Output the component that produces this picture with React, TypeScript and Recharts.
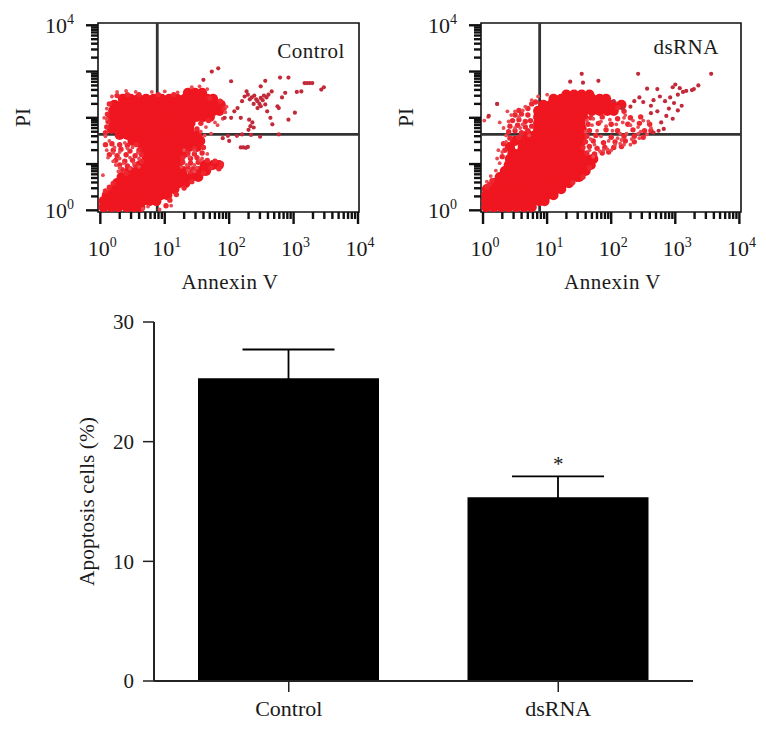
import { Bar, BarChart, ErrorBar, ReferenceArea, ReferenceDot, ReferenceLine, Scatter, ScatterChart, XAxis, YAxis } from "recharts"

const FONT = "'Liberation Serif', serif"
const RED = "#ef1620"
const INK = "#1a1a1a"

// flow cytometry events: [log10 PI, [log10 Annexin V, ...]]
const controlCore: Array<[number, number[]]> = [
  [0.07, [0.05, 0.17, 0.28, 0.41, 0.52, 0.62]],
  [0.2, [0.05, 0.16, 0.29, 0.4, 0.53, 0.65, 0.76, 0.87]],
  [0.33, [0.1, 0.22, 0.34, 0.45, 0.58, 0.7, 0.81, 0.94, 1.04]],
  [0.46, [0.2, 0.32, 0.43, 0.56, 0.68, 0.79, 0.92, 1.04, 1.15]],
  [0.59, [0.26, 0.38, 0.5, 0.61, 0.74, 0.86, 0.97, 1.1, 1.22, 1.32]],
  [0.72, [0.33, 0.45, 0.57, 0.69, 0.8, 0.93, 1.05, 1.16, 1.29, 1.41, 1.52]],
  [0.85, [0.45, 0.57, 0.68, 0.81, 0.93, 1.04, 1.17, 1.28, 1.52, 1.64]],
  [0.98, [0.62, 0.74, 0.86, 0.97, 1.1, 1.2, 1.62, 1.75, 1.84]],
  [1.11, [0.72, 0.84, 0.96, 1.08, 1.19]],
  [1.24, [0.7, 0.82, 0.94, 1.06, 1.18, 1.3]],
  [1.37, [0.66, 0.78, 0.9, 1.02, 1.14, 1.26, 1.38, 1.5]],
  [1.5, [0.5, 0.62, 0.74, 0.86, 0.98, 1.1, 1.22, 1.34, 1.46, 1.55]],
  [1.63, [0.3, 0.42, 0.54, 0.66, 0.78, 0.9, 1.02, 1.14, 1.26, 1.38, 1.5]],
  [1.76, [0.18, 0.3, 0.42, 0.54, 0.66, 0.78, 0.9, 1.02, 1.14, 1.26, 1.38]],
  [1.89, [0.2, 0.32, 0.44, 0.56, 0.68, 0.8, 0.92, 1.04, 1.16, 1.28, 1.4]],
  [2.02, [0.17, 0.29, 0.41, 0.53, 0.65, 0.77, 0.89, 1.01, 1.13, 1.25, 1.37, 1.49, 1.6, 1.7]],
  [2.15, [0.2, 0.32, 0.44, 0.56, 0.68, 0.8, 0.92, 1.04, 1.16, 1.28, 1.4, 1.52, 1.64, 1.76, 1.85]],
  [2.28, [0.22, 0.34, 0.46, 0.58, 0.7, 0.82, 0.94, 1.06, 1.18, 1.3, 1.42, 1.54, 1.66, 1.78, 1.87]],
  [2.41, [0.35, 0.47, 0.59, 0.71, 0.83, 0.95, 1.07, 1.19, 1.31, 1.43, 1.55, 1.66, 1.75]],
  [2.54, [1.36, 1.47, 1.58]],
]

const controlMid: Array<[number, number]> = [
  [0.08, 1.42], [0.18, 1.44], [0.3, 1.42], [0.42, 1.4], [0.56, 1.42], [0.2, 1.3], [0.32, 1.32], [0.46, 1.28], [0.6, 1.3],
  [0.14, 1.2], [0.26, 1.18], [0.4, 1.2], [0.54, 1.18], [0.64, 1.2], [0.24, 1.08], [0.38, 1.06], [0.5, 1.08], [0.64, 1.06],
  [0.3, 0.98], [0.42, 0.96], [0.54, 0.98], [0.34, 0.88], [0.4, 0.8], [1.46, 1.34], [1.6, 1.36], [1.36, 1.24], [1.46, 1.22],
  [1.58, 1.24], [1.28, 1.14], [1.4, 1.12], [1.5, 1.14], [1.28, 1.04], [1.4, 1.02], [1.52, 1.04], [1.36, 0.92], [1.44, 0.9],
  [1.72, 0.92], [1.84, 0.9], [1.66, 1.08], [1.78, 1.06], [1.88, 1.0], [1.4, 0.84], [0.08, 0.42], [0.14, 0.5], [0.2, 0.58],
  [1.02, 0.1], [1.08, 0.22], [1.18, 0.34], [1.3, 0.48], [1.42, 0.62], [1.6, 0.8], [0.08, 1.68], [0.1, 1.8], [0.12, 1.92],
  [0.11, 2.08], [0.14, 2.3], [0.26, 2.48], [0.42, 2.5], [0.6, 2.5], [0.9, 2.5], [1.14, 2.5], [1.7, 2.42], [1.86, 2.36],
  [1.92, 2.2], [1.68, 1.94], [1.56, 1.88], [1.5, 1.76],
]

const controlSpecks: Array<[number, number]> = [
  [0.08, 1.6], [0.14, 1.5], [0.22, 1.36], [0.1, 1.3], [0.2, 1.24], [0.3, 1.26], [0.38, 1.46], [0.42, 1.34], [0.5, 1.36],
  [0.58, 1.24], [0.12, 1.14], [0.2, 1.06], [0.3, 1.12], [0.36, 1.02], [0.46, 1.14], [0.52, 1.02], [0.6, 1.12], [0.6, 0.94],
  [0.46, 0.9], [0.3, 0.92], [0.24, 0.98], [0.04, 0.76], [0.28, 0.84], [0.1, 1.98], [0.06, 2.0], [0.1, 2.2], [0.18, 2.46],
  [0.26, 2.56], [0.4, 2.58], [0.55, 2.56], [0.8, 2.56], [1.0, 2.57], [1.2, 2.55], [1.3, 1.3], [1.38, 1.16], [1.46, 1.28],
  [1.55, 1.08], [1.46, 0.98], [1.34, 0.98], [1.26, 0.94], [1.36, 0.86], [1.5, 0.92], [1.58, 1.12], [1.66, 1.22], [1.46, 0.84],
  [1.66, 2.62], [1.54, 2.68], [1.42, 2.66], [1.96, 2.24], [1.94, 2.12], [1.9, 1.98], [1.78, 1.9], [1.64, 1.8], [1.56, 1.7],
  [1.62, 1.62], [1.72, 1.66], [1.82, 1.84], [0.66, 0.03], [0.74, 0.08], [0.92, 0.02], [1.1, 0.1],
]

const controlOutliers: Array<[number, number]> = [
  [1.73, 3.0], [1.83, 3.07], [2.03, 2.79], [1.6, 2.82], [2.56, 2.8], [2.79, 2.87], [2.92, 2.87], [3.17, 2.75], [3.21, 2.75],
  [3.25, 2.75], [3.29, 2.75], [3.43, 2.61], [3.47, 2.66], [3.12, 2.57], [3.05, 2.56], [2.87, 2.54], [2.82, 2.44], [2.66, 2.57],
  [2.61, 2.5], [2.54, 2.48], [2.49, 2.43], [2.44, 2.36], [2.39, 2.48], [2.29, 2.5], [2.24, 2.46], [2.27, 2.57], [2.49, 2.68],
  [2.56, 2.29], [2.49, 2.25], [2.44, 2.21], [2.59, 2.14], [2.77, 2.21], [2.75, 2.25], [3.02, 2.11], [2.92, 1.96], [2.64, 2.0],
  [2.67, 1.86], [2.33, 1.82], [2.38, 1.79], [2.31, 1.96], [2.18, 2.0], [2.03, 2.0], [2.13, 2.21], [2.08, 2.14], [1.93, 2.0],
  [2.38, 2.3], [2.2, 2.36], [2.32, 2.4], [2.12, 1.61], [2.2, 1.64], [2.34, 1.63], [2.48, 1.59], [2.77, 1.64], [1.98, 1.61],
  [2.18, 1.36], [2.22, 1.36], [2.26, 1.35], [2.29, 1.37], [2.0, 1.5], [1.9, 1.56], [2.42, 2.4], [2.47, 2.3], [2.52, 2.38],
  [2.58, 2.44], [2.35, 2.44], [2.3, 1.74], [2.36, 1.9],
]

const dsrnaCore: Array<[number, number[]]> = [
  [0.07, [0.05, 0.17, 0.29, 0.4, 0.52, 0.64, 0.76]],
  [0.2, [0.05, 0.17, 0.28, 0.41, 0.53, 0.64, 0.76, 0.88, 0.96]],
  [0.33, [0.05, 0.16, 0.29, 0.4, 0.52, 0.65, 0.77, 0.88, 1.0, 1.1]],
  [0.46, [0.06, 0.18, 0.3, 0.42, 0.54, 0.66, 0.78, 0.9, 1.02, 1.14, 1.22]],
  [0.59, [0.18, 0.3, 0.42, 0.54, 0.66, 0.78, 0.9, 1.02, 1.14, 1.26, 1.34]],
  [0.72, [0.26, 0.38, 0.5, 0.62, 0.74, 0.86, 0.98, 1.1, 1.22, 1.34, 1.46, 1.5]],
  [0.85, [0.34, 0.46, 0.58, 0.7, 0.82, 0.94, 1.06, 1.18, 1.3, 1.42, 1.54, 1.6]],
  [0.98, [0.4, 0.52, 0.64, 0.76, 0.88, 1.0, 1.12, 1.24, 1.36, 1.48, 1.6, 1.68]],
  [1.11, [0.42, 0.54, 0.66, 0.78, 0.9, 1.02, 1.14, 1.26, 1.38, 1.5, 1.62, 1.72]],
  [1.24, [0.46, 0.58, 0.7, 0.82, 0.94, 1.06, 1.18, 1.3, 1.42, 1.52]],
  [1.37, [0.42, 0.62, 0.74, 0.86, 0.98, 1.1, 1.22, 1.34, 1.46]],
  [1.5, [0.5, 0.62, 0.74, 0.86, 0.98, 1.1, 1.22, 1.34, 1.46, 1.54]],
  [1.63, [0.7, 0.82, 0.94, 1.06, 1.18, 1.3, 1.42, 1.54]],
  [1.76, [0.86, 0.98, 1.1, 1.22, 1.34, 1.46, 1.54]],
  [1.89, [0.86, 0.98, 1.1, 1.22, 1.34, 1.46, 1.52]],
  [2.02, [0.86, 0.98, 1.1, 1.22, 1.34, 1.46, 1.56]],
  [2.15, [0.86, 0.98, 1.1, 1.22, 1.34, 1.46, 1.58, 1.7, 1.82, 1.94, 2.04]],
  [2.28, [0.94, 1.06, 1.18, 1.3, 1.42, 1.54, 1.66, 1.78, 1.9, 2.02, 2.16]],
  [2.41, [1.1, 1.22, 1.34, 1.46, 1.58, 1.7, 1.82, 1.92]],
  [2.5, [1.3, 1.42, 1.54, 1.66]],
]

const dsrnaMid: Array<[number, number]> = [
  [0.46, 1.94], [0.56, 1.96], [0.66, 1.92], [0.74, 1.94], [0.5, 2.06], [0.6, 2.08], [0.7, 2.06], [0.42, 1.82], [0.54, 1.84],
  [0.66, 1.8], [0.76, 1.82], [0.4, 1.7], [0.5, 1.72], [0.6, 1.68], [0.7, 1.72], [0.42, 1.56], [0.56, 1.58], [0.32, 1.44],
  [0.34, 1.3], [0.3, 1.16], [0.7, 2.2], [0.76, 2.3], [0.82, 2.34], [0.56, 2.16], [1.62, 1.24], [1.74, 1.22], [1.86, 1.24],
  [1.96, 1.26], [1.56, 1.36], [1.66, 1.38], [1.78, 1.34], [1.9, 1.36], [2.04, 1.36], [2.16, 1.38], [1.6, 1.48], [1.72, 1.5],
  [1.88, 1.46], [2.06, 1.48], [2.22, 1.5], [2.36, 1.48], [1.62, 1.6], [1.76, 1.62], [2.0, 1.58], [2.2, 1.6], [2.36, 1.6],
  [2.5, 1.58], [1.66, 1.72], [1.92, 1.74], [2.1, 1.72], [2.34, 1.74], [2.52, 1.72], [2.62, 1.72], [1.64, 1.86], [1.8, 1.88],
  [2.0, 1.86], [2.26, 1.86], [2.44, 1.88], [2.6, 1.86], [1.68, 2.0], [1.86, 2.02], [2.1, 1.98], [2.3, 2.0], [2.46, 2.02],
  [2.1, 2.22], [2.2, 2.14], [1.56, 0.72], [1.4, 0.6], [1.66, 0.92], [0.1, 0.56], [0.14, 0.64], [0.06, 0.5],
]

const dsrnaSpecks: Array<[number, number]> = [
  [0.12, 0.74], [0.06, 0.62], [0.2, 0.86], [0.26, 1.02], [0.3, 1.26], [0.22, 1.12], [0.24, 1.3], [0.36, 1.48], [0.36, 1.62],
  [0.5, 1.78], [0.58, 1.78], [0.62, 1.86], [0.72, 1.62], [0.4, 1.92], [0.32, 1.78], [0.26, 1.9], [0.44, 2.06], [0.38, 2.14],
  [0.5, 2.14], [0.56, 2.02], [0.62, 2.16], [0.66, 2.24], [0.76, 2.38], [0.86, 2.46], [1.0, 2.5], [0.02, 1.94], [0.08, 2.02],
  [0.22, 2.3], [1.6, 1.7], [1.68, 1.54], [1.74, 1.42], [1.82, 1.28], [1.66, 1.3], [1.72, 1.16], [1.88, 1.3], [1.94, 1.32],
  [2.0, 1.3], [2.06, 1.42], [2.14, 1.44], [2.2, 1.42], [2.16, 1.52], [2.3, 1.42], [2.32, 1.54], [2.1, 1.56], [1.96, 1.5],
  [1.84, 1.6], [1.78, 1.72], [1.7, 1.84], [1.62, 1.94], [1.72, 1.98], [1.84, 1.92], [1.92, 1.82], [2.02, 1.72], [2.14, 1.66],
  [2.24, 1.66], [2.42, 1.66], [2.44, 1.56], [2.46, 1.7], [2.62, 1.78], [2.56, 1.64], [2.42, 1.8], [2.3, 1.84], [2.18, 1.9],
  [2.08, 1.86], [1.98, 1.96], [2.2, 2.0], [2.22, 2.06], [2.34, 1.94], [2.5, 1.94], [2.58, 1.92],
]

const dsrnaOutliers: Array<[number, number]> = [
  [1.54, 2.95], [2.42, 2.95], [3.56, 2.95], [1.36, 2.78], [1.56, 2.76], [1.8, 2.8], [0.22, 2.3], [0.09, 2.04], [2.56, 2.63],
  [2.72, 2.62], [2.96, 2.66], [3.07, 2.64], [3.12, 2.56], [3.17, 2.58], [3.26, 2.6], [3.36, 2.7], [3.0, 2.72], [3.29, 2.62],
  [3.04, 2.5], [2.92, 2.44], [2.84, 2.36], [2.66, 2.38], [2.76, 2.46], [2.62, 2.26], [2.5, 2.34], [2.36, 2.36], [2.44, 2.44],
  [2.3, 2.24], [2.62, 2.1], [2.72, 2.14], [2.86, 2.04], [3.1, 2.26], [2.98, 2.32], [3.04, 2.16], [2.9, 2.2], [2.78, 1.9],
  [2.82, 1.76], [2.74, 1.72], [2.66, 1.68], [2.96, 1.98], [2.18, 2.2], [2.04, 2.36],
]

const decades = [1, 10, 100, 1000, 10000]
const labelledPi = [1, 10000] // the PI axis only prints its two ends
const logTicks = [1, 2, 3, 4, 5, 6, 7, 8, 9, 10, 20, 30, 40, 50, 60, 70, 80, 90, 100, 200, 300, 400, 500, 600, 700, 800, 900,
  1000, 2000, 3000, 4000, 5000, 6000, 7000, 8000, 9000, 10000]

const categories = ["Control", "dsRNA"]
const apoptosis = [25.3, 15.35]
const apoptosisSem = [2.4, 1.75]
const barAxisTicks = [0, 10, 20, 30]

// lower whisker sits just inside the bar so only the upper one shows, as in the figure
const barData = categories.map((name, i) => ({ name, value: apoptosis[i], err: [0.2, apoptosisSem[i]] }))

const fromRows = (rows: Array<[number, number[]]>) =>
  rows.flatMap(([pi, xs]) => xs.map((x) => ({ annexin: 10 ** x, pi: 10 ** pi })))
const fromPairs = (pairs: Array<[number, number]>) => pairs.map(([x, pi]) => ({ annexin: 10 ** x, pi: 10 ** pi }))

const dot = (r: number, fill: string) => (props: any) => <circle cx={props.cx} cy={props.cy} r={r} fill={fill} />

function XLogTick({ x, y, payload }: any) {
  const major = decades.includes(payload.value)
  return (
    <g>
      <line x1={x} x2={x} y1={y} y2={y + (major ? 12 : 7)} stroke="#111" strokeWidth={2.4} />
      {major && (
        <text x={x + 2} y={y + 44} textAnchor="middle" fontFamily={FONT} fontSize={22} fill={INK}>
          10<tspan fontSize={14} dy={-9}>{Math.log10(payload.value).toFixed(0)}</tspan>
        </text>
      )}
    </g>
  )
}

function YLogTick({ x, y, payload }: any) {
  const major = decades.includes(payload.value)
  return (
    <g>
      <line x1={x} x2={x - (major ? 12 : 7)} y1={y} y2={y} stroke="#111" strokeWidth={2.4} />
      {labelledPi.includes(payload.value) && (
        <text x={x - 24} y={y + 8} textAnchor="end" fontFamily={FONT} fontSize={22} fill={INK}>
          10<tspan fontSize={14} dy={-9}>{Math.log10(payload.value).toFixed(0)}</tspan>
        </text>
      )}
    </g>
  )
}

const rotatedLabel = (text: string, x: number) => (props: any) => {
  const cy = props.viewBox.y + props.viewBox.height / 2
  return (
    <text x={x} y={cy} transform={`rotate(-90 ${x} ${cy})`} textAnchor="middle" dominantBaseline="central" fontFamily={FONT} fontSize={21.4} fill={INK}>
      {text}
    </text>
  )
}

interface PanelProps {
  left: number
  title: string
  titleX: number
  titleY: number
  xDomain: [number, number]
  rightMargin: number
  core: Array<[number, number[]]>
  mid: Array<[number, number]>
  specks: Array<[number, number]>
  outliers: Array<[number, number]>
}

function DotPlot({ left, title, titleX, titleY, xDomain, rightMargin, core, mid, specks, outliers }: PanelProps) {
  return (
    <div style={{ position: "absolute", left, top: 0 }}>
      <ScatterChart width={383} height={300} margin={{ top: 23, right: rightMargin, bottom: 0, left: 0 }}>
        <XAxis
          type="number"
          dataKey="annexin"
          scale="log"
          domain={xDomain}
          ticks={logTicks}
          interval={0}
          axisLine={false}
          tickLine={false}
          tickSize={0}
          tickMargin={0}
          height={88}
          tick={<XLogTick />}
          label={{ value: "Annexin V", position: "insideBottom", offset: 11, dx: 1.5, fontFamily: FONT, fontSize: 21, fill: INK, letterSpacing: 0.5 }}
        />
        <YAxis
          type="number"
          dataKey="pi"
          scale="log"
          domain={[0.92, 11200]}
          ticks={logTicks}
          interval={0}
          axisLine={false}
          tickLine={false}
          tickSize={0}
          tickMargin={0}
          width={98}
          tick={<YLogTick />}
          label={rotatedLabel("PI", 23)}
        />
        <Scatter data={fromRows(core)} isAnimationActive={false} shape={dot(5.1, RED)} />
        <Scatter data={fromPairs(mid)} isAnimationActive={false} shape={dot(2.7, "#ee2630")} />
        <Scatter data={fromPairs(specks)} isAnimationActive={false} shape={dot(1.9, "#ea4a52")} />
        <Scatter data={fromPairs(outliers)} isAnimationActive={false} shape={dot(2.1, "#c22a3a")} />
        <ReferenceLine x={7.65} stroke="#333" strokeWidth={2.8} />
        <ReferenceLine y={44} stroke="#333" strokeWidth={2.8} />
        <ReferenceArea x1={xDomain[0]} x2={xDomain[1]} y1={0.92} y2={11200} fill="none" stroke="#111" strokeWidth={1.6} />
        <ReferenceDot
          x={titleX}
          y={titleY}
          r={0}
          label={{ value: title, position: "center", fontFamily: FONT, fontSize: 21, fill: INK, letterSpacing: 0.5 }}
        />
      </ScatterChart>
    </div>
  )
}

export default function App() {
  return (
    <div style={{ position: "absolute", left: 0, top: 0, width: 766, height: 729, background: "#fff", overflow: "hidden" }}>
      <DotPlot
        left={0}
        title="Control"
        titleX={1870}
        titleY={2880}
        xDomain={[0.92, 10360]}
        rightMargin={24}
        core={controlCore}
        mid={controlMid}
        specks={controlSpecks}
        outliers={controlOutliers}
      />
      <DotPlot
        left={383}
        title="dsRNA"
        titleX={1480}
        titleY={3470}
        xDomain={[0.93, 10600]}
        rightMargin={25}
        core={dsrnaCore}
        mid={dsrnaMid}
        specks={dsrnaSpecks}
        outliers={dsrnaOutliers}
      />
      <div style={{ position: "absolute", left: 0, top: 300 }}>
        <BarChart width={766} height={429} data={barData} margin={{ top: 22, right: 73, bottom: 0, left: 0 }}>
          <XAxis
            dataKey="name"
            height={48}
            axisLine={{ stroke: "#222", strokeWidth: 2 }}
            tickLine={{ stroke: "#222", strokeWidth: 1.5 }}
            tickSize={11}
            tickMargin={8}
            tick={{ fontFamily: FONT, fontSize: 22, fill: INK }}
          />
          <YAxis
            domain={[0, 30]}
            ticks={barAxisTicks}
            width={154}
            axisLine={{ stroke: "#222", strokeWidth: 2 }}
            tickLine={{ stroke: "#222", strokeWidth: 1.5 }}
            tickSize={11}
            tickMargin={9}
            tick={{ fontFamily: FONT, fontSize: 21, fill: INK }}
            label={rotatedLabel("Apoptosis cells (%)", 87)}
          />
          <Bar dataKey="value" fill="#000" barSize={181} isAnimationActive={false}>
            <ErrorBar dataKey="err" direction="y" width={46} stroke="#000" strokeWidth={1.8} isAnimationActive={false} />
          </Bar>
          <ReferenceDot x="dsRNA" y={18.2} r={0} label={{ value: "*", position: "center", fontFamily: FONT, fontSize: 21, fill: INK }} />
        </BarChart>
      </div>
    </div>
  )
}
